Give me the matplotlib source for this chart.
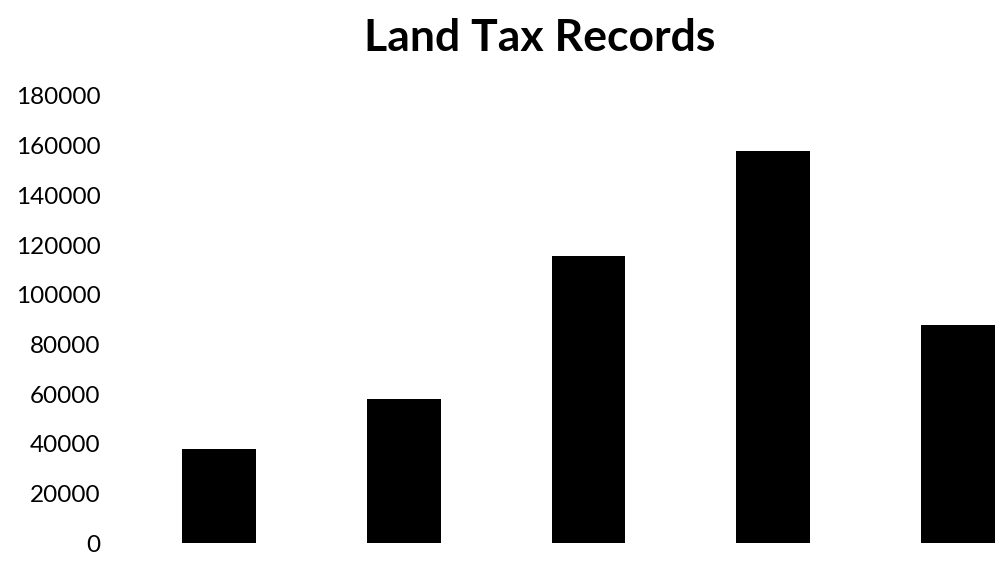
import numpy as np
import matplotlib.pyplot as plt

# Land Tax Records
categories = ['A', 'B', 'C', 'D', 'E']
values = [37800, 58000, 115500, 158000, 88000]
y_ticks = [0, 20000, 40000, 60000, 80000, 100000, 120000, 140000, 160000, 180000]

plt.rcParams['font.family'] = ['Lato', 'DejaVu Sans']

fig = plt.figure(figsize=(10.03, 5.71), dpi=100)
ax = fig.add_axes([0.1097, 0.0485, 0.8903, 0.7834])

x = np.arange(len(categories))
ax.bar(x, values, width=0.4, color='black')

ax.set_xlim(-0.59, 4.2436)
ax.set_ylim(0, 180000)
ax.set_yticks(y_ticks)
ax.set_yticklabels([str(v) for v in y_ticks], fontsize=17.5)
ax.set_xticks([])
ax.tick_params(axis='y', length=0, pad=7)
for s in ax.spines.values():
    s.set_visible(False)

fig.text(0.538, 0.933, 'Land Tax Records', ha='center', va='center',
         fontsize=32, fontweight='bold')

plt.savefig('out.png', dpi=100)
